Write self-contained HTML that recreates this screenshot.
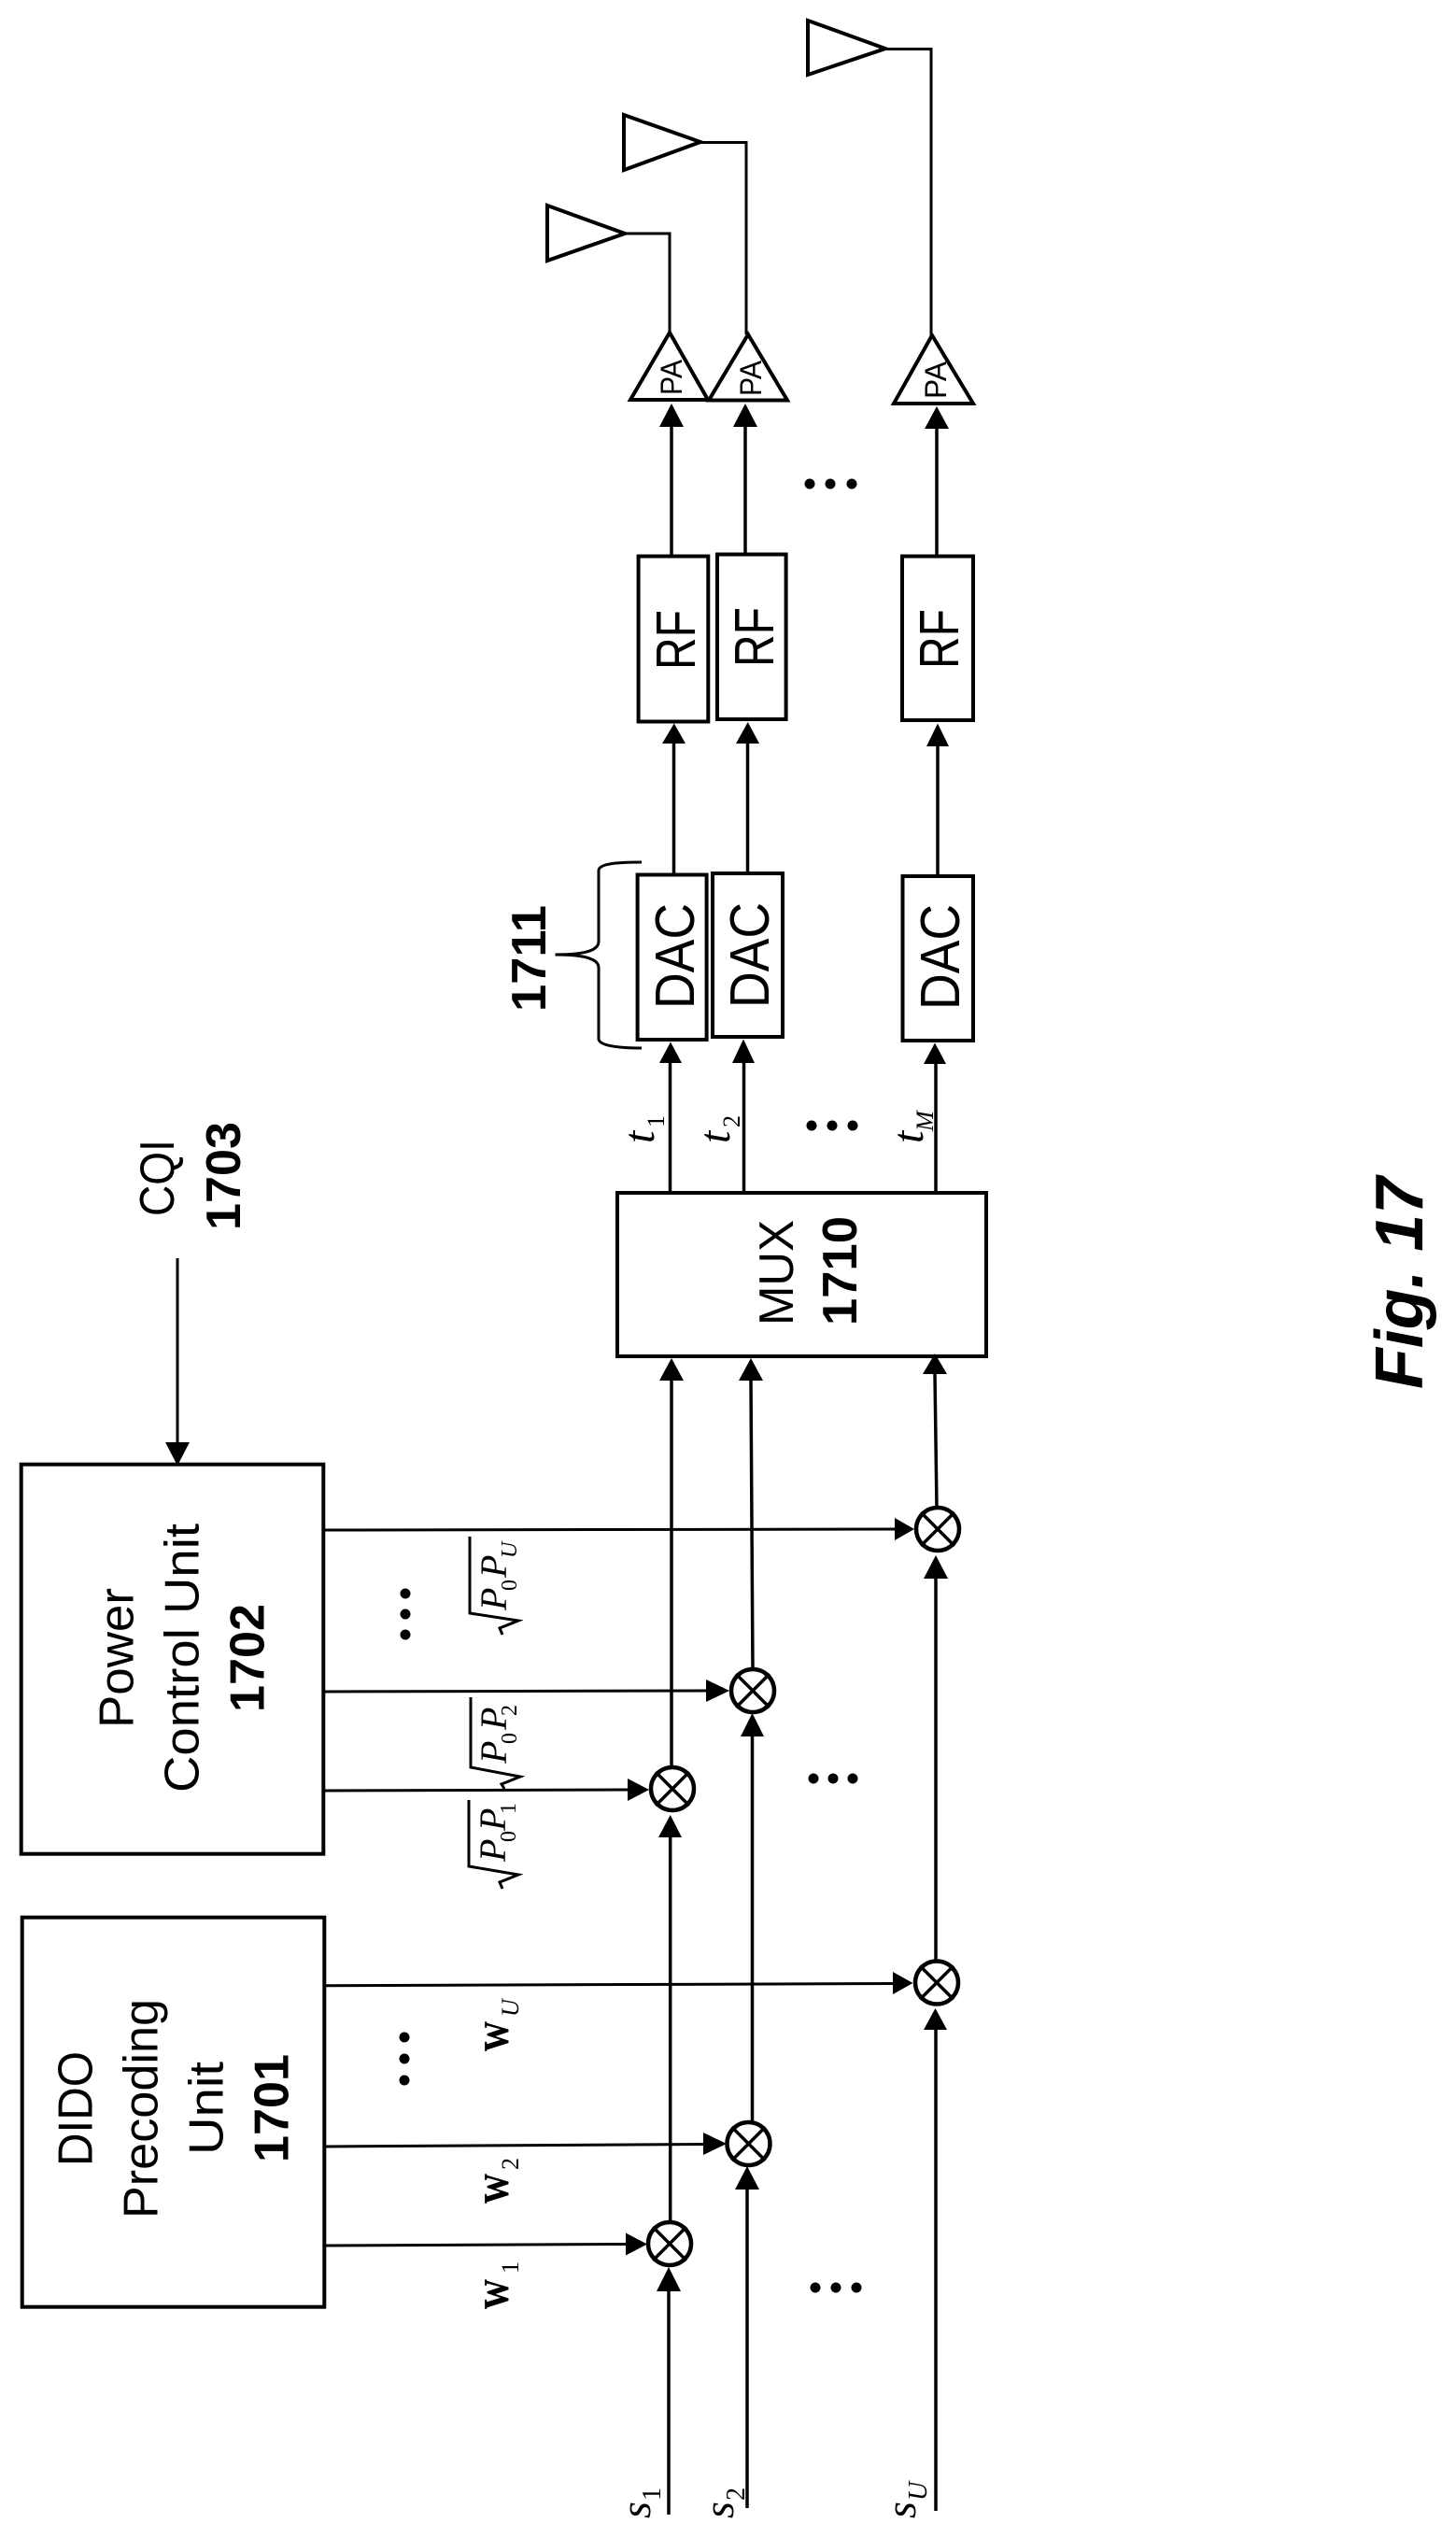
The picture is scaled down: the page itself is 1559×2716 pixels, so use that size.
<!DOCTYPE html>
<html><head><meta charset="utf-8"><title>Fig. 17</title>
<style>
html,body{margin:0;padding:0;background:#fff}
svg{display:block}
.s{font-family:"Liberation Sans",sans-serif;fill:#000}
.b{font-family:"Liberation Sans",sans-serif;font-weight:bold;fill:#000}
.i{font-family:"Liberation Serif",serif;font-style:italic;fill:#000}
.w{font-family:"Liberation Serif",serif;font-weight:bold;fill:#000}
.n{font-family:"Liberation Serif",serif;font-style:normal;fill:#000}
</style></head><body>
<svg xmlns="http://www.w3.org/2000/svg" width="1559" height="2716" viewBox="0 0 1559 2716">
<defs>
<g id="x"><circle r="23" fill="#fff" stroke="#000" stroke-width="4.5"/><path d="M-18-18L18 18M-18 18L18-18" stroke="#000" stroke-width="3.5"/></g>
</defs>
<rect width="1559" height="2716" fill="#fff"/>
<g fill="none" stroke="#000" stroke-width="3.5">
<!-- antennas -->
<path d="M586 220L669 250L586 279Z" stroke-width="4"/><path d="M669 250H717V356" stroke-width="3"/>
<path d="M668 123L750 152L668 182Z" stroke-width="4"/><path d="M750 152.500H799V358" stroke-width="3"/>
<path d="M865 22L948 52L865 80Z" stroke-width="4"/><path d="M948 52.500H997V359" stroke-width="3"/>
<!-- PA -->
<path d="M717 356L758 428H675Z" stroke-width="4"/>
<path d="M801 358L843 428.500H759Z" stroke-width="4"/>
<path d="M998 359L1042 432H957Z" stroke-width="4"/>
<!-- RF -->
<rect x="683.600" y="595.500" width="74.700" height="177" stroke-width="4"/>
<rect x="768" y="593.500" width="73.600" height="176.500" stroke-width="4"/>
<rect x="966" y="595.500" width="76" height="175.500" stroke-width="4"/>
<!-- DAC -->
<rect x="682.600" y="936.500" width="74" height="176.500" stroke-width="4"/>
<rect x="763" y="935" width="75" height="175" stroke-width="4"/>
<rect x="966.500" y="938" width="75.500" height="176" stroke-width="4"/>
<!-- MUX -->
<rect x="661" y="1277" width="395" height="175" stroke-width="4"/>
<!-- units -->
<rect x="22.700" y="1567.700" width="323.600" height="417" stroke-width="4"/>
<rect x="23.700" y="2052.700" width="323.600" height="417" stroke-width="4"/>
<!-- brace -->
<path d="M687 923C665 923 641 924 641 932V1008C641 1016 631 1022 594.500 1022C631 1022 641 1028 641 1036V1112C641 1120 665 1122 687 1122" stroke-width="3"/>
<!-- vertical links -->
<path d="M719 456V594M798 456V592M1003 459V594"/>
<path d="M721.500 796V935M800.500 796V933M1004 799V936"/>
<path d="M717.500 1137V1277M796.500 1137V1277M1002 1139V1277"/>
<path d="M719 1478V1892M804 1478L806 1788M1001 1471L1003 1615"/>
<path d="M717.700 1967V2380M805.500 1859V2273M1002 1690V2101"/>
<path d="M716 2453V2692M800 2344V2685M1002 2173V2688"/>
<!-- horizontals -->
<path d="M190 1347V1545" stroke-width="3"/>
<path d="M348 1638L959 1637" stroke-width="3"/>
<path d="M348 1811L757 1810" stroke-width="3"/>
<path d="M348 1917L673 1916" stroke-width="3"/>
<path d="M349 2125.700L957 2123.500" stroke-width="3"/>
<path d="M349 2298L754 2295.500" stroke-width="3"/>
<path d="M349 2404L671 2402.500" stroke-width="3"/>
<!-- radicals -->
<path d="M503 1645V1727L555 1735L535 1743L538 1750" stroke-width="3"/>
<path d="M504 1817V1892L557 1902L537 1910L540 1915" stroke-width="3"/>
<path d="M502 1927V1998L555 2007L535 2015L538 2022" stroke-width="3"/>
</g>
<!-- arrowheads -->
<g fill="#000">
<path d="M719 432L732 457H706Z M798 432L811 457H785Z M1003 435L1016 459H990Z"/>
<path d="M721.800 774.500L734 796H709Z M800.800 773L813 796H788Z M1004 774.500L1016 799H992Z"/>
<path d="M718 1115.500L730 1138H706Z M796 1112.500L808 1138H784Z M1001 1116.500L1013 1139H989Z"/>
<path d="M719 1454L732 1478H706Z M804 1454L817 1478H791Z M1001 1449L1014 1471H988Z"/>
<path d="M190 1569L177 1544H203Z"/>
<path d="M979 1637L958 1625V1649Z M781 1810L756 1798V1822Z M695 1916L672 1904V1928Z"/>
<path d="M977.500 2123L956 2111V2135Z M778 2295L753 2283V2307Z M693 2402.500L670 2390.500V2414.500Z"/>
<path d="M717.700 1943L730 1967H705Z M805.500 1834L818 1859H793Z M1002 1665L1015 1690H989Z"/>
<path d="M716 2427L729 2453H703Z M800 2319L813 2344H787Z M1001.500 2150L1014 2173H989Z"/>
</g>
<!-- multipliers -->
<use href="#x" x="720" y="1915"/>
<use href="#x" x="806" y="1810"/>
<use href="#x" x="1004" y="1637"/>
<use href="#x" x="1003" y="2122.500"/>
<use href="#x" x="801.500" y="2295"/>
<use href="#x" x="717" y="2402"/>
<!-- dots -->
<g fill="#000">
<circle cx="867" cy="518" r="5.500"/><circle cx="889" cy="518" r="5.500"/><circle cx="912" cy="518" r="5.500"/>
<circle cx="869" cy="1205" r="5.500"/><circle cx="891" cy="1205" r="5.500"/><circle cx="913" cy="1205" r="5.500"/>
<circle cx="434" cy="1706" r="5.500"/><circle cx="434" cy="1728" r="5.500"/><circle cx="434" cy="1750" r="5.500"/>
<circle cx="433" cy="2181" r="5.500"/><circle cx="433" cy="2204" r="5.500"/><circle cx="433" cy="2227" r="5.500"/>
<circle cx="871" cy="1904" r="5.500"/><circle cx="892" cy="1904" r="5.500"/><circle cx="913" cy="1904" r="5.500"/>
<circle cx="873" cy="2449" r="5.500"/><circle cx="895" cy="2449" r="5.500"/><circle cx="917" cy="2449" r="5.500"/>
</g>
<!-- sans labels -->
<g class="s">
<text transform="translate(730,423) rotate(-90)" font-size="32" textLength="38" lengthAdjust="spacingAndGlyphs">PA</text>
<text transform="translate(815,424) rotate(-90)" font-size="32" textLength="38" lengthAdjust="spacingAndGlyphs">PA</text>
<text transform="translate(1013,427) rotate(-90)" font-size="32" textLength="40" lengthAdjust="spacingAndGlyphs">PA</text>
<text transform="translate(744,717) rotate(-90)" font-size="59" textLength="64" lengthAdjust="spacingAndGlyphs">RF</text>
<text transform="translate(828,714) rotate(-90)" font-size="59" textLength="64" lengthAdjust="spacingAndGlyphs">RF</text>
<text transform="translate(1026,716) rotate(-90)" font-size="59" textLength="64" lengthAdjust="spacingAndGlyphs">RF</text>
<text transform="translate(743,1080) rotate(-90)" font-size="59" textLength="113" lengthAdjust="spacingAndGlyphs">DAC</text>
<text transform="translate(823,1079) rotate(-90)" font-size="59" textLength="113" lengthAdjust="spacingAndGlyphs">DAC</text>
<text transform="translate(1027,1081) rotate(-90)" font-size="59" textLength="113" lengthAdjust="spacingAndGlyphs">DAC</text>
<text transform="translate(849,1419) rotate(-90)" font-size="52" textLength="113" lengthAdjust="spacingAndGlyphs">MUX</text>
<text transform="translate(186,1302) rotate(-90)" font-size="52" textLength="82" lengthAdjust="spacingAndGlyphs">CQI</text>
<text transform="translate(142.300,1850) rotate(-90)" font-size="52" textLength="150" lengthAdjust="spacingAndGlyphs">Power</text>
<text transform="translate(212.300,1919) rotate(-90)" font-size="52" textLength="288" lengthAdjust="spacingAndGlyphs">Control Unit</text>
<text transform="translate(98.300,2319) rotate(-90)" font-size="52" textLength="123" lengthAdjust="spacingAndGlyphs">DIDO</text>
<text transform="translate(168.300,2375) rotate(-90)" font-size="52" textLength="235" lengthAdjust="spacingAndGlyphs">Precoding</text>
<text transform="translate(238.300,2307) rotate(-90)" font-size="52" textLength="100" lengthAdjust="spacingAndGlyphs">Unit</text>
</g>
<!-- bold labels -->
<g class="b">
<text transform="translate(584,1083) rotate(-90)" font-size="52" textLength="114" lengthAdjust="spacingAndGlyphs">1711</text>
<text transform="translate(917,1419) rotate(-90)" font-size="52" textLength="117" lengthAdjust="spacingAndGlyphs">1710</text>
<text transform="translate(257,1317) rotate(-90)" font-size="52" textLength="116" lengthAdjust="spacingAndGlyphs">1703</text>
<text transform="translate(282.700,1833) rotate(-90)" font-size="52" textLength="116" lengthAdjust="spacingAndGlyphs">1702</text>
<text transform="translate(308.300,2315) rotate(-90)" font-size="52" textLength="116" lengthAdjust="spacingAndGlyphs">1701</text>
<text transform="translate(1523,1487) rotate(-90)" font-size="72" font-style="italic" textLength="227" lengthAdjust="spacingAndGlyphs">Fig. 17</text>
</g>
<!-- t labels -->
<g class="i" font-size="48">
<text transform="translate(700,1224) rotate(-90)">t</text>
<text transform="translate(781,1224) rotate(-90)">t</text>
<text transform="translate(988,1224) rotate(-90)">t</text>
<text transform="translate(711,1207) rotate(-90)" font-size="26" class="n">1</text>
<text transform="translate(792,1207) rotate(-90)" font-size="26" class="n">2</text>
<text transform="translate(999,1211) rotate(-90)" font-size="26">M</text>
</g>
<!-- s labels -->
<g class="i" font-size="46">
<text transform="translate(696,2696) rotate(-90)">s</text>
<text transform="translate(785,2696) rotate(-90)">s</text>
<text transform="translate(980,2696) rotate(-90)">s</text>
<text transform="translate(707,2677) rotate(-90)" font-size="28" class="n">1</text>
<text transform="translate(797,2677) rotate(-90)" font-size="28" class="n">2</text>
<text transform="translate(992,2677) rotate(-90)" font-size="28">U</text>
</g>
<!-- w labels -->
<g class="w" font-size="54">
<text transform="translate(544,2472) rotate(-90)" textLength="32" lengthAdjust="spacingAndGlyphs">w</text>
<text transform="translate(544,2359) rotate(-90)" textLength="32" lengthAdjust="spacingAndGlyphs">w</text>
<text transform="translate(544,2196) rotate(-90)" textLength="32" lengthAdjust="spacingAndGlyphs">w</text>
</g>
<g class="n" font-size="26">
<text transform="translate(555,2434) rotate(-90)">1</text>
<text transform="translate(555,2323) rotate(-90)">2</text>
<text transform="translate(555,2159) rotate(-90)" class="i">U</text>
</g>
<!-- sqrt labels -->
<g class="i" font-size="40">
<text transform="translate(542,1724) rotate(-90)">P</text>
<text transform="translate(542,1689) rotate(-90)">P</text>
<text transform="translate(542,1888) rotate(-90)">P</text>
<text transform="translate(542,1852) rotate(-90)">P</text>
<text transform="translate(541,1993) rotate(-90)">P</text>
<text transform="translate(541,1960) rotate(-90)">P</text>
</g>
<g class="n" font-size="24">
<text transform="translate(553,1703) rotate(-90)">0</text>
<text transform="translate(553,1668) rotate(-90)" class="i">U</text>
<text transform="translate(553,1867) rotate(-90)">0</text>
<text transform="translate(553,1837) rotate(-90)">2</text>
<text transform="translate(552,1972) rotate(-90)">0</text>
<text transform="translate(552,1942) rotate(-90)">1</text>
</g>
</svg>
</body></html>
